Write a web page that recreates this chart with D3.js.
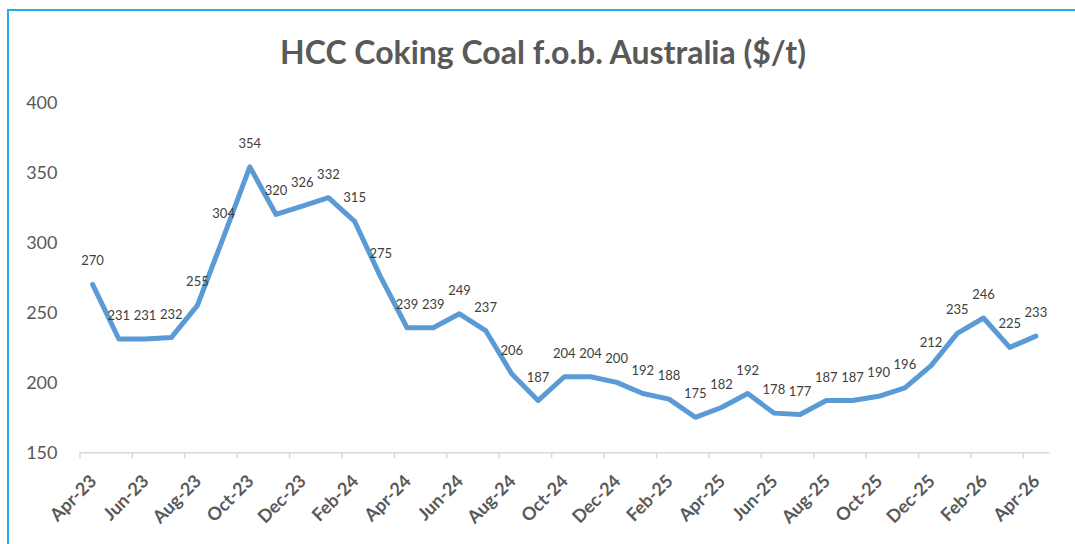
<!DOCTYPE html>
<html>
<head>
<meta charset="utf-8">
<script src="https://cdn.jsdelivr.net/npm/d3@7"></script>
<style>
    html, body { margin: 0; padding: 0; background: #fff; overflow: hidden; }
    text { font-family: Lato, "Open Sans", sans-serif; }
</style>
</head>
<body>
<div class="chart"></div>
<script>
"use strict";

const title = "HCC Coking Coal f.o.b. Australia ($/t)";

const months = [
    "Apr-23", "May-23", "Jun-23", "Jul-23", "Aug-23", "Sep-23", "Oct-23", "Nov-23", "Dec-23",
    "Jan-24", "Feb-24", "Mar-24", "Apr-24", "May-24", "Jun-24", "Jul-24", "Aug-24", "Sep-24",
    "Oct-24", "Nov-24", "Dec-24", "Jan-25", "Feb-25", "Mar-25", "Apr-25", "May-25", "Jun-25",
    "Jul-25", "Aug-25", "Sep-25", "Oct-25", "Nov-25", "Dec-25", "Jan-26", "Feb-26", "Mar-26",
    "Apr-26"
];

const prices = [
    270, 231, 231, 232, 255, 304, 354, 320, 326,
    332, 315, 275, 239, 239, 249, 237, 206, 187,
    204, 204, 200, 192, 188, 175, 182, 192, 178,
    177, 187, 187, 190, 196, 212, 235, 246, 225,
    233
];

const yTicks = [150, 200, 250, 300, 350, 400];

const W = 1075, H = 544;
const margin = {top: 102.5, right: 26, bottom: 91.7, left: 79.5};

let data = months.map((m, i) => ({month: m, value: prices[i]}));

let svg = d3.select(".chart").append("svg")
    .attr("width", W)
    .attr("height", H);

svg.append("rect")
    .attr("width", W).attr("height", H)
    .style("fill", "#fff");

// chart frame (runs off the right and bottom of the picture)
svg.append("rect")
    .attr("x", 8).attr("y", 10)
    .attr("width", W + 20).attr("height", H + 20)
    .style("fill", "none")
    .style("stroke", "#1AAFE6")
    .attr("stroke-width", 2);

let x = d3.scaleBand()
    .domain(months)
    .range([margin.left, W - margin.right])
    .padding(0);

// index scale for the category boundaries (tick marks sit between categories)
let xi = d3.scaleLinear()
    .domain([0, months.length])
    .range([margin.left, W - margin.right]);

let y = d3.scaleLinear()
    .domain([150, 400])
    .range([H - margin.bottom, margin.top]);

svg.append("text")
    .attr("x", 543)
    .attr("y", 64)
    .attr("text-anchor", "middle")
    .style("font-size", "32px")
    .style("font-weight", "bold")
    .style("fill", "#595959")
    .text(title);

// y axis: labels only
let yAxis = d3.axisLeft(y)
    .tickValues(yTicks)
    .tickSize(0)
    .tickPadding(22);

svg.append("g")
    .attr("class", "y axis")
    .attr("transform", "translate(" + margin.left + ",0)")
    .call(yAxis)
    .call(g => g.select(".domain").remove())
    .selectAll("text")
    .style("font-family", "Lato, sans-serif")
    .style("font-size", "18px")
    .style("fill", "#595959");

// x axis: line + tick marks every two months
let xAxis = d3.axisBottom(xi)
    .tickValues(d3.range(0, months.length, 2))
    .tickSize(6)
    .tickSizeOuter(0)
    .tickFormat("");

let gx = svg.append("g")
    .attr("class", "x axis")
    .attr("transform", "translate(0," + y(150) + ")")
    .call(xAxis);
gx.select(".domain").style("stroke", "#D9D9D9").attr("stroke-width", 1.5);
gx.selectAll(".tick line").style("stroke", "#D9D9D9").attr("stroke-width", 1.5);

svg.append("g")
    .selectAll("text")
    .data(data.filter((d, i) => i % 2 === 0))
    .enter()
    .append("text")
    .attr("transform", d => "translate(" + (x(d.month) + x.bandwidth() / 2 + 5) + "," + (y(150) + 30) + ") rotate(-45)")
    .attr("text-anchor", "end")
    .style("font-size", "18px")
    .style("font-weight", "bold")
    .style("fill", "#595959")
    .text(d => d.month);

let valueline = d3.line()
    .x(d => x(d.month) + x.bandwidth() / 2)
    .y(d => y(d.value));

svg.append("path")
    .attr("d", valueline(data))
    .style("fill", "none")
    .style("stroke", "#5B9BD5")
    .attr("stroke-width", 5)
    .attr("stroke-linejoin", "round")
    .attr("stroke-linecap", "round");

svg.append("g")
    .selectAll("text")
    .data(data)
    .enter()
    .append("text")
    .attr("x", d => x(d.month) + x.bandwidth() / 2)
    .attr("y", d => y(d.value) - 19)
    .attr("text-anchor", "middle")
    .style("font-size", "13px")
    .style("fill", "#404040")
    .text(d => d.value);
</script>
</body>
</html>
